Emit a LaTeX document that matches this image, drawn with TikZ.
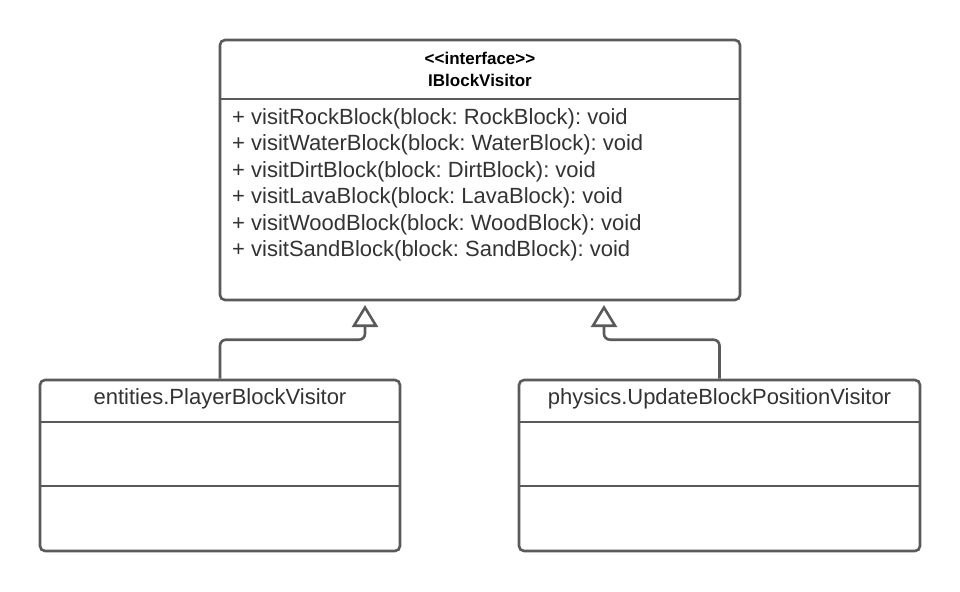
\documentclass[tikz,border=0pt]{standalone}
\usepackage{fontspec}
\setmainfont{Liberation Sans}
\usetikzlibrary{arrows.meta}
\definecolor{ln}{HTML}{5A5A5A}
\definecolor{tx}{HTML}{333333}
\frenchspacing
\begin{document}
\begin{tikzpicture}[x=1pt,y=-1pt,
  box/.style={draw=ln,line width=2.6pt,rounded corners=5pt,fill=white,inner sep=0pt},
  divl/.style={draw=ln,line width=2.6pt},
  meth/.style={anchor=west,text=tx,inner sep=0pt,font=\fontsize{22}{24}\selectfont},
  head/.style={text=black,inner sep=0pt,font=\bfseries\fontsize{17}{19}\selectfont},
  title/.style={text=tx,inner sep=0pt,font=\fontsize{22}{24}\selectfont},
  inh/.style={draw=ln,line width=2.6pt,rounded corners=6pt,-{Triangle[open,length=22pt,width=26pt,line width=2.6pt]}}]
\useasboundingbox (0,0) rectangle (960,591);
% interface
\node[box,minimum width=520pt,minimum height=260pt] (ibv) at (480,170) {};
\draw[divl] (220,99) -- (740,99);
\node[head] (st) at (480,58) {{<}{<}interface{>}{>}};
\node[head] (nm) at (480,80) {IBlockVisitor};
\node[meth] (m1) at (232,118.5) {+ visitRockBlock(block: RockBlock): void};
\node[meth] (m2) at (232,145) {+ visitWaterBlock(block: WaterBlock): void};
\node[meth] (m3) at (232,171.5) {+ visitDirtBlock(block: DirtBlock): void};
\node[meth] (m4) at (232,198) {+ visitLavaBlock(block: LavaBlock): void};
\node[meth] (m5) at (232,224.5) {+ visitWoodBlock(block: WoodBlock): void};
\node[meth] (m6) at (232,251) {+ visitSandBlock(block: SandBlock): void};
% left class
\node[box,minimum width=360pt,minimum height=171pt] (pbv) at (220,465.5) {};
\draw[divl] (40,422) -- (400,422);
\draw[divl] (40,486) -- (400,486);
\node[title] (pt) at (220,399) {entities.PlayerBlockVisitor};
% right class
\node[box,minimum width=401pt,minimum height=171pt] (ubv) at (719.5,465.5) {};
\draw[divl] (519,422) -- (920,422);
\draw[divl] (519,486) -- (920,486);
\node[title] (ut) at (719.5,399) {physics.UpdateBlockPositionVisitor};
% inheritance
\coordinate (tl) at (365,305);
\coordinate (tr) at (604,305);
\draw[inh] (pbv.north) -- ++(0,-39) -| (tl);
\draw[inh] (ubv.north) -- ++(0,-39) -| (tr);
\end{tikzpicture}
\end{document}
